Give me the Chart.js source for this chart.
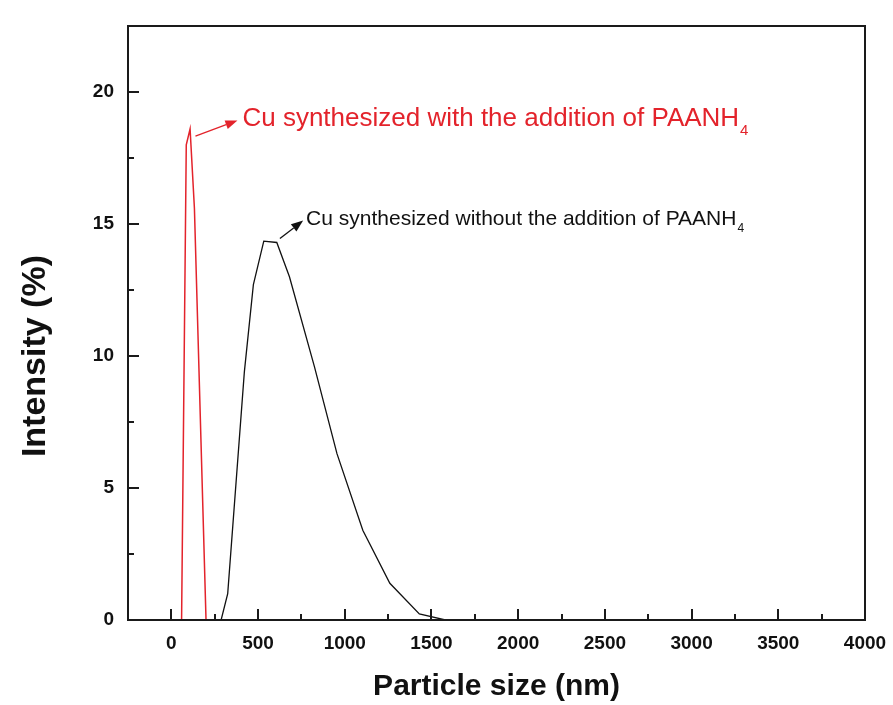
<!DOCTYPE html>
<html><head><meta charset="utf-8">
<script src="https://cdn.jsdelivr.net/npm/chart.js@4/dist/chart.umd.min.js"></script>
<style>html,body{margin:0;padding:0;background:#fff}#wrap{width:893px;height:705px}</style>
</head><body><div id="wrap"><canvas id="c" width="893" height="705"></canvas></div>
<script>
// ---- data ----
const redSize = [0, 59, 86, 108, 133, 200, 4000];
const redIntensity = [0, 0, 18.0, 18.6, 15.6, 0, 0];
const blackSize = [0, 287, 325, 421, 473, 533, 608, 681, 825, 955, 1104, 1260, 1430, 1580, 4000];
const blackIntensity = [0, 0, 1.0, 9.4, 12.7, 14.35, 14.3, 13.0, 9.6, 6.3, 3.4, 1.39, 0.23, 0, 0];
const seriesNames = ['Cu synthesized with the addition of PAANH', 'Cu synthesized without the addition of PAANH'];
const xMajorTicks = [0, 500, 1000, 1500, 2000, 2500, 3000, 3500, 4000];
const xTickLabels = ['0', '500', '1000', '1500', '2000', '2500', '3000', '3500', '4000'];
const xMinorTicks = [250, 750, 1250, 1750, 2250, 2750, 3250, 3750];
const yMajorTicks = [0, 5, 10, 15, 20];
const yTickLabels = ['0', '5', '10', '15', '20'];
const yMinorTicks = [2.5, 7.5, 12.5, 17.5];

const FONT = "'Liberation Sans', Arial, Helvetica, sans-serif";
const toPts = (xs, ys) => xs.map((x, i) => ({x, y: ys[i]}));

// annotation placement (data units) and styles
const notes = [
  {text: seriesNames[0], sub: '4', color: '#e3232b', size: 26, x: 410, y: 18.72, from: [139, 18.33], to: [381, 18.92]},
  {text: seriesNames[1], sub: '4', color: '#111111', size: 21, x: 777, y: 14.98, from: [626, 14.45], to: [760, 15.13]}
];

const decor = {
  id: 'decor',
  afterDraw(chart) {
    const {ctx, chartArea: a, scales: {x, y}} = chart;
    ctx.save();
    ctx.strokeStyle = '#1a1a1a';
    ctx.lineWidth = 2;
    ctx.strokeRect(a.left, a.top, a.right - a.left, a.bottom - a.top);
    ctx.beginPath();
    const xt = (v, len) => { const p = Math.round(x.getPixelForValue(v)); ctx.moveTo(p, a.bottom); ctx.lineTo(p, a.bottom - len); };
    const yt = (v, len) => { const p = Math.round(y.getPixelForValue(v)); ctx.moveTo(a.left, p); ctx.lineTo(a.left + len, p); };
    xMajorTicks.forEach(v => { if (v < x.max) xt(v, 11); });
    xMinorTicks.forEach(v => xt(v, 6));
    yMajorTicks.forEach(v => { if (v > y.min) yt(v, 11); });
    yMinorTicks.forEach(v => yt(v, 6));
    ctx.stroke();

    notes.forEach(n => {
      ctx.strokeStyle = n.color; ctx.fillStyle = n.color; ctx.lineWidth = 1.3;
      const x0 = x.getPixelForValue(n.from[0]), y0 = y.getPixelForValue(n.from[1]);
      const x1 = x.getPixelForValue(n.to[0]), y1 = y.getPixelForValue(n.to[1]);
      const ang = Math.atan2(y1 - y0, x1 - x0), hl = 12, hw = 4.5;
      const bx = x1 - hl * Math.cos(ang), by = y1 - hl * Math.sin(ang);
      ctx.beginPath(); ctx.moveTo(x0, y0); ctx.lineTo(bx, by); ctx.stroke();
      ctx.beginPath(); ctx.moveTo(x1, y1);
      ctx.lineTo(bx + hw * Math.sin(ang), by - hw * Math.cos(ang));
      ctx.lineTo(bx - hw * Math.sin(ang), by + hw * Math.cos(ang));
      ctx.closePath(); ctx.fill();
      const tx = x.getPixelForValue(n.x), ty = y.getPixelForValue(n.y);
      ctx.font = n.size + 'px ' + FONT; ctx.textBaseline = 'alphabetic'; ctx.textAlign = 'left';
      ctx.fillText(n.text, tx, ty);
      const w = ctx.measureText(n.text).width;
      ctx.font = Math.round(n.size * 0.58) + 'px ' + FONT;
      ctx.fillText(n.sub, tx + w + 1, ty + n.size * 0.34);
    });
    ctx.restore();
  }
};

new Chart(document.getElementById('c'), {
  type: 'line',
  data: {
    datasets: [
      {label: seriesNames[0], data: toPts(redSize, redIntensity), borderColor: '#e3232b', borderWidth: 1.5, pointRadius: 0, tension: 0, fill: false},
      {label: seriesNames[1], data: toPts(blackSize, blackIntensity), borderColor: '#111111', borderWidth: 1.3, pointRadius: 0, tension: 0, fill: false}
    ]
  },
  options: {
    responsive: false, animation: false, devicePixelRatio: 1,
    layout: {padding: {left: 0, right: 28, top: 26, bottom: 0}},
    plugins: {legend: {display: false}, tooltip: {enabled: false}},
    scales: {
      x: {
        type: 'linear', min: -250, max: 4000,
        afterFit: s => { s.height = 85; s.paddingLeft = 0; s.paddingRight = 0; },
        afterBuildTicks: s => { s.ticks = xMajorTicks.map(v => ({value: v})); },
        grid: {display: false, drawTicks: false},
        border: {display: true, color: '#1a1a1a', width: 2},
        ticks: {padding: 12, color: '#111', maxRotation: 0, autoSkip: false, font: {family: FONT, size: 19, weight: 'bold'},
                callback: (v, i) => xTickLabels[i]},
        title: {display: true, text: 'Particle size (nm)', color: '#111', font: {family: FONT, size: 30, weight: 'bold'}, padding: {top: 0, bottom: 0}}
      },
      y: {
        type: 'linear', min: 0, max: 22.5,
        afterFit: s => { s.width = 128; s.paddingTop = 0; s.paddingBottom = 0; },
        afterBuildTicks: s => { s.ticks = yMajorTicks.map(v => ({value: v})); },
        grid: {display: false, drawTicks: false},
        border: {display: true, color: '#1a1a1a', width: 2},
        ticks: {padding: 14, color: '#111', autoSkip: false, font: {family: FONT, size: 19, weight: 'bold'},
                callback: (v, i) => yTickLabels[i]},
        title: {display: true, text: 'Intensity (%)       ', color: '#111', font: {family: FONT, size: 34, weight: 'bold'}, padding: {top: 15, bottom: 0}}
      }
    }
  },
  plugins: [decor]
});
</script>
</body></html>
